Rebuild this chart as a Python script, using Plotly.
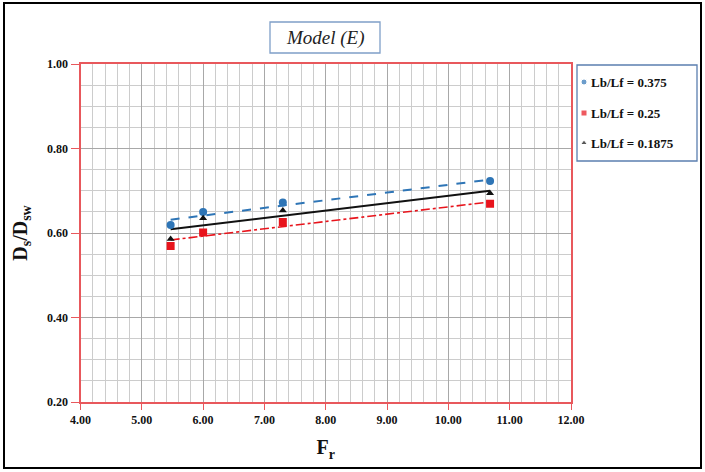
import numpy as np
import plotly.graph_objects as go

# Froude number values for each Lb/Lf ratio
fr_0375 = [5.47, 6.00, 7.30, 10.68]
ds_0375 = [0.619, 0.650, 0.672, 0.723]

fr_025 = [5.47, 6.00, 7.30, 10.68]
ds_025 = [0.569, 0.601, 0.626, 0.669]

fr_01875 = [5.47, 6.00, 7.30, 10.68]
ds_01875 = [0.586, 0.635, 0.653, 0.694]

series_names = ["Lb/Lf = 0.375", "Lb/Lf = 0.25", "Lb/Lf = 0.1875"]
x_ticks = [4, 5, 6, 7, 8, 9, 10, 11, 12]
y_ticks = [0.2, 0.4, 0.6, 0.8, 1.0]

W, H = 705, 472
serif = "Liberation Serif"
axis_red = "#e8585c"

series = [
    (fr_0375, ds_0375, series_names[0], "#2e75b6", "circle", 8, "dash", 2),
    (fr_025, ds_025, series_names[1], "#e8141c", "square", 8, "dashdot", 1.6),
    (fr_01875, ds_01875, series_names[2], "#111111", "triangle-up", 7, "solid", 2),
]

fig = go.Figure()

# Linear trend lines (drawn first, under the markers)
for xs, ys, name, color, sym, size, dash, lw in series:
    xa = np.array(xs)
    slope, intercept = np.polyfit(xa, np.array(ys), 1)
    xl = np.array([xa.min(), xa.max()])
    fig.add_trace(go.Scatter(
        x=xl, y=slope * xl + intercept, mode="lines",
        line=dict(color=color, width=lw, dash=dash),
        showlegend=False, hoverinfo="skip",
    ))

for xs, ys, name, color, sym, size, dash, lw in series:
    fig.add_trace(go.Scatter(
        x=xs, y=ys, mode="markers", name=name, showlegend=False,
        marker=dict(color=color, symbol=sym, size=size),
    ))

# Overlay canvas axes in pixel units for the legend box, title box and frame
leg_x0, leg_x1, leg_y0, leg_y1 = 577, 697, 65, 161
leg_rows = [82, 113, 143]
fig.add_trace(go.Scatter(
    x=[584] * 3, y=leg_rows, xaxis="x2", yaxis="y2", mode="markers",
    marker=dict(color=[s[3] for s in series], symbol=[s[4] for s in series],
                size=[6, 6, 6]),
    showlegend=False, hoverinfo="skip",
))

annotations = []
for (xs, ys, name, *_), yy in zip(series, leg_rows):
    annotations.append(dict(
        text=name, xref="x2", yref="y2", x=589, y=yy,
        xanchor="left", yanchor="middle", showarrow=False,
        font=dict(family=serif, size=13, color="#111111", weight="bold"),
    ))
annotations.append(dict(
    text="Model (E)", xref="x2", yref="y2", x=325, y=38,
    xanchor="center", yanchor="middle", showarrow=False,
    font=dict(family=serif, size=19, style="italic", color="#222222"),
))

shapes = [
    dict(type="rect", xref="x2", yref="y2", x0=4, x1=701, y0=3, y1=468,
         line=dict(color="black", width=2), layer="below"),
    dict(type="rect", xref="x2", yref="y2", x0=leg_x0, x1=leg_x1, y0=leg_y0, y1=leg_y1,
         line=dict(color="#5b7fb0", width=1.3), fillcolor="white", layer="below"),
    dict(type="rect", xref="x2", yref="y2", x0=270, x1=380, y0=22, y1=53,
         line=dict(color="#7f9fc8", width=1.3), fillcolor="white", layer="below"),
]

px0, px1, py0, py1 = 80.5, 571, 64, 402

fig.update_layout(
    width=W, height=H,
    margin=dict(l=0, r=0, t=0, b=0, autoexpand=False),
    paper_bgcolor="white", plot_bgcolor="rgba(0,0,0,0)",
    font=dict(family=serif, color="#111111"),
    showlegend=False,
    xaxis=dict(
        domain=[px0 / W, px1 / W], anchor="y",
        range=[4, 12], tickvals=x_ticks,
        ticktext=[f"{v:.2f}" for v in x_ticks],
        tickfont=dict(family=serif, size=12, weight="bold"),
        ticks="outside", ticklen=6, tickcolor=axis_red, tickwidth=1,
        showline=True, linecolor=axis_red, linewidth=2, mirror=True,
        showgrid=True, gridcolor="#a8a8a8", gridwidth=1,
        minor=dict(dtick=0.2, showgrid=True, gridcolor="#cccccc", gridwidth=1),
        zeroline=False,
        title=dict(text="F<sub>r</sub>", font=dict(family=serif, size=20, weight="bold"), standoff=14),
    ),
    yaxis=dict(
        domain=[(H - py1) / H, (H - py0) / H], anchor="x",
        range=[0.2, 1.0], tickvals=y_ticks,
        ticktext=[f"{v:.2f}" for v in y_ticks],
        tickfont=dict(family=serif, size=12, weight="bold"),
        ticks="outside", ticklen=8, tickcolor=axis_red, tickwidth=1,
        showline=True, linecolor=axis_red, linewidth=2, mirror=True,
        showgrid=True, gridcolor="#a8a8a8", gridwidth=1,
        minor=dict(dtick=0.05, showgrid=True, gridcolor="#cccccc", gridwidth=1),
        zeroline=False,
        title=dict(text="D<sub>s</sub>/D<sub>sw</sub>", font=dict(family=serif, size=20, weight="bold"), standoff=14),
    ),
    xaxis2=dict(domain=[0, 1], anchor="y2", range=[0, W], visible=False, fixedrange=True),
    yaxis2=dict(domain=[0, 1], anchor="x2", range=[H, 0], visible=False, fixedrange=True),
    annotations=annotations,
    shapes=shapes,
)

fig.write_html("out.html")
